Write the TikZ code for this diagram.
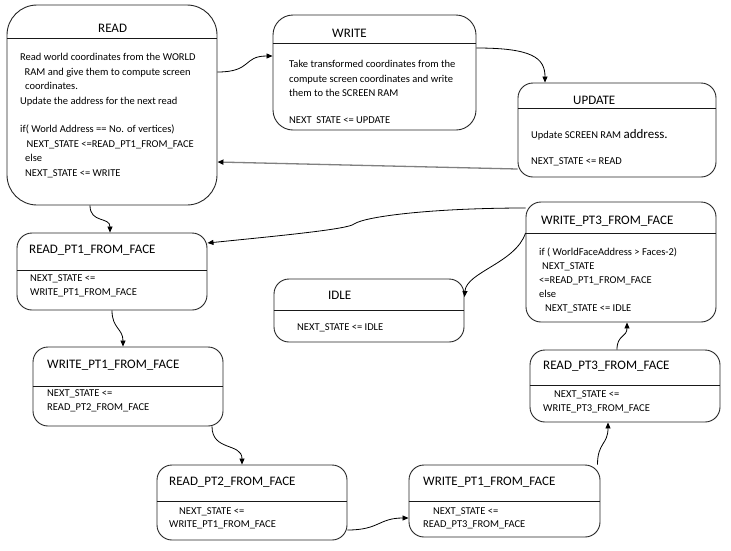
\documentclass[tikz,border=0pt]{standalone}
\usepackage{fontspec}
\setmainfont{Carlito}
\usetikzlibrary{arrows.meta}
\begin{document}
\begin{tikzpicture}[x=1pt,y=-1pt,
  statebox/.style={draw=black!85, line width=0.9pt, rounded corners=15pt, inner sep=0pt},
  titletext/.style={font=\fontsize{13}{15}\selectfont, anchor=base west, inner sep=0pt},
  bodytext/.style={font=\fontsize{10.5}{14.4}\selectfont, anchor=north west, inner sep=0pt,
                   align=left, yshift=4.6pt, execute at begin node=\strut},
  divider/.style={line width=0.8pt, draw=black!90},
  conn/.style={line width=0.8pt, -{Triangle[length=6pt,width=5pt]}}]
\useasboundingbox (0,0) rectangle (731,550);

% READ
\node[statebox, rounded corners=30pt, minimum width=210pt, minimum height=200pt] (read) at (112,105) {};
\draw[divider] (read.west |- 0,38) -- (read.east |- 0,38);
\node[titletext] (readT) at (98,32) {READ};
\node[bodytext] (readB) at (20,58) {Read world coordinates from the WORLD\\\hspace*{4.5pt}RAM and give them to compute screen\\\hspace*{5pt}coordinates.\\Update the address for the next read\\[14.4pt]if( World Address == No. of vertices)\\\hspace*{6.5pt}NEXT\_STATE <=READ\_PT1\_FROM\_FACE\\\hspace*{5pt}else\\\hspace*{5pt}NEXT\_STATE <= WRITE};

% WRITE
\node[statebox, rounded corners=20pt, minimum width=203pt, minimum height=115pt] (write) at (374.5,72.5) {};
\draw[divider] (write.west |- 0,43) -- (write.east |- 0,43);
\node[titletext] (writeT) at (332,37) {WRITE};
\node[bodytext] (writeB) at (289,65) {Take transformed coordinates from the\\compute screen coordinates and write\\them to the SCREEN RAM\\[12pt]NEXT\ \ STATE <= UPDATE};

% UPDATE
\node[statebox, minimum width=198pt, minimum height=94pt] (update) at (617,130) {};
\draw[divider] (update.west |- 0,108) -- (update.east |- 0,108);
\node[titletext] (updateT) at (573,104) {UPDATE};
\node[bodytext] (updateB) at (531,134) {Update SCREEN RAM {\fontsize{13}{14.4}\selectfont address.}\\[11.5pt]NEXT\_STATE <= READ};

% READ_PT1_FROM_FACE
\node[statebox, minimum width=190pt, minimum height=77pt] (rpt1) at (112,271.5) {};
\draw[divider] (rpt1.west |- 0,270) -- (rpt1.east |- 0,270);
\node[titletext] (rpt1T) at (29,253) {READ\_PT1\_FROM\_FACE};
\node[bodytext] (rpt1B) at (30,279) {NEXT\_STATE <=\\WRITE\_PT1\_FROM\_FACE};

% IDLE
\node[statebox, minimum width=190pt, minimum height=63pt] (idle) at (369,310.5) {};
\draw[divider] (idle.west |- 0,310) -- (idle.east |- 0,310);
\node[titletext] (idleT) at (328,299) {IDLE};
\node[bodytext] (idleB) at (297,325) {NEXT\_STATE <= IDLE};

% WRITE_PT3_FROM_FACE
\node[statebox, minimum width=190pt, minimum height=120pt] (wpt3) at (621,262) {};
\draw[divider] (wpt3.west |- 0,233) -- (wpt3.east |- 0,233);
\node[titletext] (wpt3T) at (541,224) {WRITE\_PT3\_FROM\_FACE};
\node[bodytext, font=\fontsize{10.5}{14}\selectfont] (wpt3B) at (539,252) {if ( WorldFaceAddress > Faces-2)\\\hspace*{3pt}NEXT\_STATE\\<=READ\_PT1\_FROM\_FACE\\else\\\hspace*{6pt}NEXT\_STATE <= IDLE};

% WRITE_PT1_FROM_FACE (left)
\node[statebox, minimum width=190pt, minimum height=79pt] (wpt1l) at (128,386.5) {};
\draw[divider] (wpt1l.west |- 0,386) -- (wpt1l.east |- 0,386);
\node[titletext] (wpt1lT) at (47,368) {WRITE\_PT1\_FROM\_FACE};
\node[bodytext] (wpt1lB) at (47,394) {NEXT\_STATE <=\\READ\_PT2\_FROM\_FACE};

% READ_PT3_FROM_FACE
\node[statebox, minimum width=190pt, minimum height=72pt] (rpt3) at (625,386) {};
\draw[divider] (rpt3.west |- 0,385) -- (rpt3.east |- 0,385);
\node[titletext] (rpt3T) at (543,369) {READ\_PT3\_FROM\_FACE};
\node[bodytext] (rpt3B) at (543,395) {\hspace*{11pt}NEXT\_STATE <=\\WRITE\_PT3\_FROM\_FACE};

% READ_PT2_FROM_FACE
\node[statebox, minimum width=190pt, minimum height=75pt] (rpt2) at (252,502.5) {};
\draw[divider] (rpt2.west |- 0,501) -- (rpt2.east |- 0,501);
\node[titletext] (rpt2T) at (169,485) {READ\_PT2\_FROM\_FACE};
\node[bodytext, font=\fontsize{10.5}{13.5}\selectfont] (rpt2B) at (169,512) {\hspace*{10pt}NEXT\_STATE <=\\WRITE\_PT1\_FROM\_FACE};

% WRITE_PT1_FROM_FACE (bottom)
\node[statebox, minimum width=191pt, minimum height=72pt] (wpt1b) at (504.5,501) {};
\draw[divider] (wpt1b.west |- 0,501) -- (wpt1b.east |- 0,501);
\node[titletext] (wpt1bT) at (423,485) {WRITE\_PT1\_FROM\_FACE};
\node[bodytext, font=\fontsize{10.5}{13.5}\selectfont] (wpt1bB) at (423,512) {\hspace*{10pt}NEXT\_STATE <=\\READ\_PT3\_FROM\_FACE};

% connectors
\draw[conn] ([yshift=33pt]read.east) .. controls +(35,0) and +(-30,0) .. ([yshift=16.5pt]write.west);
\draw[conn] ([yshift=24.5pt]write.east) .. controls +(55,0) and +(0,-25) .. ([xshift=-72pt]update.north);
\draw[line width=1.3pt, draw=black!50, -{Triangle[length=6pt,width=5pt,color=black]}] ([yshift=-39pt]update.west) -- ([yshift=-57pt]read.east);
\draw[conn] ([xshift=-22pt]read.south) .. controls +(0,18) and +(0,-16) .. ([xshift=-2pt]rpt1.north);
\coordinate (bump) at (354,224);
\draw[conn] ([yshift=54pt]wpt3.west) .. controls +(-90,0) and +(12,-8) .. (bump) .. controls +(-6,5) and +(80,-8) .. ([yshift=28.5pt]rpt1.east);
\draw[conn] ([yshift=29pt]wpt3.west) .. controls +(-10,30) and +(2,-25) .. ([yshift=13.5pt]idle.east);
\draw[conn] (rpt1.south) .. controls +(0,18) and +(0,-18) .. ([xshift=-5pt]wpt1l.north);
\draw[conn] ([xshift=84pt]wpt1l.south) .. controls +(0,25) and +(0,-22) .. ([xshift=-10pt]rpt2.north);
\draw[conn] ([yshift=-27.5pt]rpt2.east) .. controls +(32,0) and +(-30,0) .. ([yshift=-17pt]wpt1b.west);
\draw[conn] ([xshift=93pt]wpt1b.north) .. controls +(0,-22) and +(0,22) .. ([xshift=-17pt]rpt3.south);
\draw[conn] ([xshift=-8pt]rpt3.north) .. controls +(0,-15) and +(0,15) .. ([xshift=6pt]wpt3.south);
\end{tikzpicture}
\end{document}
